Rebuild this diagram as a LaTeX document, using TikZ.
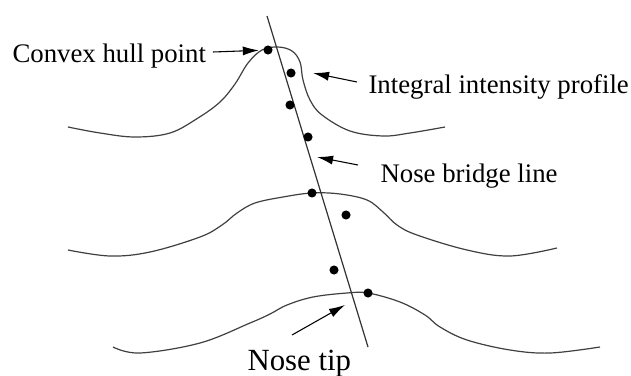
\documentclass[tikz,border=0pt]{standalone}
\usepackage{fontspec}
\setmainfont{Liberation Serif}
\usetikzlibrary{arrows.meta}

\begin{document}
\begin{tikzpicture}[x=0.3734pt,y=-0.3734pt,
  lbl/.style={anchor=base west,inner sep=0pt,font=\fontsize{10}{12}\selectfont},
  pt/.style={circle,fill=black,inner sep=0pt,minimum size=3.4pt},
  prof/.style={line width=0.45pt,black!75},
  ptr/.style={line width=0.4pt,-{Latex[length=6pt,width=3.4pt]}}]
\useasboundingbox (0,0) rectangle (631,375);
% intensity profiles
\draw[prof] plot[smooth,tension=0.6] coordinates {(68,127) (100,133) (135,137) (170,133) (198,118) (220,102) (235,84) (248,63) (262,50) (278,47) (292,51) (300,62) (303,80) (310,100) (322,115) (350,131) (383,136) (410,133) (445,127)};
\draw[prof] plot[smooth,tension=0.6] coordinates {(68,250) (110,256) (150,252) (200,237) (222,225) (237,213) (255,203) (283,197) (312,193) (340,194) (367,200) (383,212) (397,225) (417,235) (467,250) (510,256) (557,248)};
\draw[prof] plot[smooth,tension=0.6] coordinates {(113,347) (140,353) (200,343) (250,323) (270,314) (287,305) (313,297) (347,293) (368,293) (400,302) (425,315) (440,327) (467,340) (510,350) (550,353) (600,347)};
% nose bridge line
\coordinate (T) at (267,16);
\coordinate (B) at (368,347);
\draw[line width=0.45pt,black!80] (T) -- (B);
% points
\node[pt] (D1) at (268,50) {};
\node[pt] (D2) at (291,73) {};
\node[pt] (D3) at (290,105) {};
\node[pt] (D4) at (308,137) {};
\node[pt] (D5) at (312,193) {};
\node[pt] (D6) at (346,215) {};
\node[pt] (D7) at (334,270) {};
\node[pt] (D8) at (368,293) {};
% labels
\node[lbl] (hull) at (12,63) {Convex hull point};
\node[lbl] (intp) at (368,93) {Integral intensity profile};
\node[lbl] (brl) at (380,182) {Nose bridge line};
\node[lbl,font=\fontsize{11.5}{13}\selectfont] (tip) at (247,370) {Nose tip};
\coordinate (a1) at (213,52);
\coordinate (a2) at (357,82);
\coordinate (b2) at (313,73);
\coordinate (a3) at (358,165);
\coordinate (b3) at (317,157);
\coordinate (a4) at (292,335);
\coordinate (b4) at (345,305);
\draw[ptr,shorten >=1.5pt] (a1) -- (D1);
\draw[ptr] (a2) -- (b2);
\draw[ptr] (a3) -- (b3);
\draw[ptr] (a4) -- (b4);
\end{tikzpicture}
\end{document}
